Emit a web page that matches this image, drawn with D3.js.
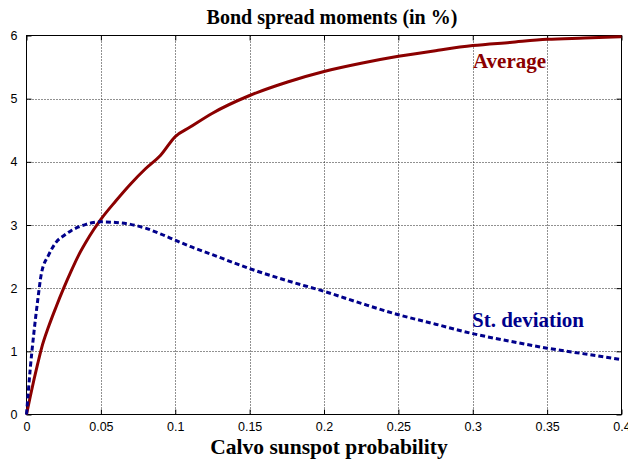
<!DOCTYPE html>
<html>
<head>
<meta charset="utf-8">
<script src="https://cdn.jsdelivr.net/npm/d3@7"></script>
<style>
  html, body { margin: 0; padding: 0; background: #fff; }
  svg { display: block; }
</style>
</head>
<body>
<svg id="chart" width="628" height="459"></svg>
<script>
// Calvo sunspot probability grid
const probability = [0, 0.0025, 0.005, 0.0075, 0.01, 0.015, 0.02, 0.025, 0.03, 0.035, 0.04, 0.045, 0.05,
  0.06, 0.07, 0.08, 0.09, 0.1, 0.11, 0.125, 0.15, 0.175, 0.2, 0.225, 0.25, 0.275, 0.3, 0.325, 0.35, 0.375, 0.4];

// Bond spread average (%)
const average = [0, 0.28, 0.55, 0.8, 1.04, 1.4, 1.71, 2.0, 2.27, 2.52, 2.73, 2.92, 3.09,
  3.38, 3.65, 3.89, 4.1, 4.4, 4.55, 4.77, 5.05, 5.26, 5.43, 5.56, 5.67, 5.76, 5.84, 5.89, 5.94, 5.96, 5.98];

// Bond spread standard deviation (%)
const stdev = [0, 0.72, 1.3, 1.8, 2.23, 2.53, 2.73, 2.83, 2.91, 2.97, 3.01, 3.04, 3.05,
  3.04, 3.01, 2.95, 2.86, 2.76, 2.66, 2.53, 2.31, 2.12, 1.95, 1.76, 1.58, 1.43, 1.28, 1.16, 1.05, 0.96, 0.87];

const xTicks = [0, 0.05, 0.1, 0.15, 0.2, 0.25, 0.3, 0.35, 0.4];
const xTickLabels = ["0", "0.05", "0.1", "0.15", "0.2", "0.25", "0.3", "0.35", "0.4"];
const yTicks = [0, 1, 2, 3, 4, 5, 6];

const title = "Bond spread moments (in %)";
const xTitle = "Calvo sunspot probability";
const seriesNames = ["Average", "St. deviation"];

const plotLeft = 26.5, plotRight = 621.5, plotTop = 35.5, plotBottom = 414.5;

const svg = d3.select("#chart");
const x = d3.scaleLinear().domain([0, 0.4]).range([plotLeft, plotRight]);
const y = d3.scaleLinear().domain([0, 6]).range([plotBottom, plotTop]);

const serif = "'Liberation Serif', 'Times New Roman', serif";
const sans = "'Liberation Sans', Arial, Helvetica, sans-serif";

// dotted grid
const grid = svg.append("g").attr("stroke", "#222").attr("stroke-width", 1)
  .attr("stroke-dasharray", "1,2").attr("fill", "none");
xTicks.slice(1, -1).forEach(t => {
  grid.append("line").attr("x1", Math.round(x(t)) + 0.5).attr("x2", Math.round(x(t)) + 0.5)
    .attr("y1", plotTop).attr("y2", plotBottom);
});
yTicks.slice(1, -1).forEach(t => {
  grid.append("line").attr("y1", Math.round(y(t)) + 0.5).attr("y2", Math.round(y(t)) + 0.5)
    .attr("x1", plotLeft).attr("x2", plotRight);
});

// axes with inward ticks on all four sides
const axBottom = d3.axisBottom(x).tickValues(xTicks).tickSizeInner(-5).tickSizeOuter(0)
  .tickFormat((d, i) => xTickLabels[i]).tickPadding(8);
const axTop = d3.axisTop(x).tickValues(xTicks).tickSizeInner(-5).tickSizeOuter(0).tickFormat("");
const axLeft = d3.axisLeft(y).tickValues(yTicks).tickSizeInner(-5).tickSizeOuter(0)
  .tickFormat(d3.format("d")).tickPadding(9);
const axRight = d3.axisRight(y).tickValues(yTicks).tickSizeInner(-5).tickSizeOuter(0).tickFormat("");

function styleAxis(g) {
  g.select(".domain").remove();
  g.selectAll("line").attr("stroke", "#000");
  g.selectAll("text").attr("font-family", sans).attr("font-size", 12.5).attr("fill", "#000");
}
svg.append("g").attr("transform", `translate(0,${plotBottom})`).call(axBottom).call(styleAxis);
svg.append("g").attr("transform", `translate(0,${plotTop})`).call(axTop).call(styleAxis);
svg.append("g").attr("transform", `translate(${plotLeft},0)`).call(axLeft).call(styleAxis);
svg.append("g").attr("transform", `translate(${plotRight},0)`).call(axRight).call(styleAxis);

// plot frame
svg.append("rect").attr("x", plotLeft).attr("y", plotTop)
  .attr("width", plotRight - plotLeft).attr("height", plotBottom - plotTop)
  .attr("fill", "none").attr("stroke", "#000").attr("stroke-width", 1);

svg.append("clipPath").attr("id", "plotClip").append("rect")
  .attr("x", plotLeft - 2).attr("y", plotTop - 2)
  .attr("width", plotRight - plotLeft + 4).attr("height", plotBottom - plotTop + 4);

const line = d3.line().x((d, i) => x(probability[i])).y(d => y(d)).curve(d3.curveMonotoneX);

const plot = svg.append("g").attr("clip-path", "url(#plotClip)");
plot.append("path").datum(average).attr("d", line)
  .attr("fill", "none").attr("stroke", "#8b0000").attr("stroke-width", 3)
  .attr("stroke-linejoin", "round");
plot.append("path").datum(stdev).attr("d", line)
  .attr("fill", "none").attr("stroke", "#00008b").attr("stroke-width", 3)
  .attr("stroke-dasharray", "5,3");

// series labels
svg.append("text").attr("x", 473).attr("y", 68).text(seriesNames[0])
  .attr("font-family", serif).attr("font-weight", "bold").attr("font-size", 21).attr("fill", "#8b0000");
svg.append("text").attr("x", 472).attr("y", 327).text(seriesNames[1])
  .attr("font-family", serif).attr("font-weight", "bold").attr("font-size", 21).attr("fill", "#00008b");

// titles
svg.append("text").attr("x", 332).attr("y", 24).attr("text-anchor", "middle").text(title)
  .attr("font-family", serif).attr("font-weight", "bold").attr("font-size", 20).attr("fill", "#000");
svg.append("text").attr("x", 329).attr("y", 454).attr("text-anchor", "middle").text(xTitle)
  .attr("font-family", serif).attr("font-weight", "bold").attr("font-size", 21.5).attr("fill", "#000");
</script>
</body>
</html>
